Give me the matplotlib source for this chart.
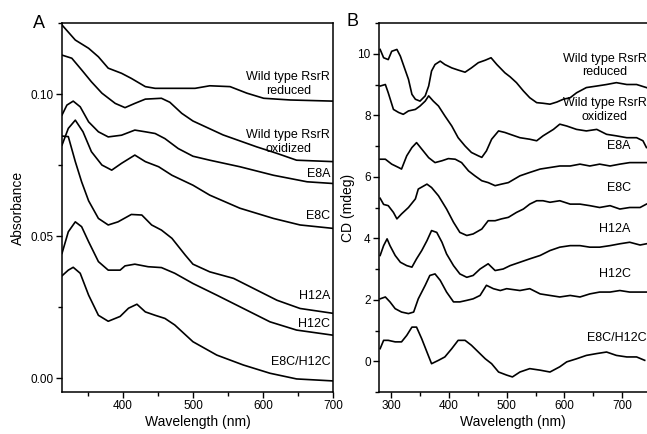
import matplotlib
matplotlib.use("Agg")
import matplotlib.pyplot as plt
import numpy as np
from matplotlib.ticker import MultipleLocator

plt.rcParams['font.family'] = ['Liberation Sans', 'DejaVu Sans']

# ---------------- panel A : absorbance ----------------
wt_red_x = [313, 332, 351, 365, 379, 398, 412, 432, 446, 503, 524, 553, 577, 601, 639, 700]
wt_red_y = [0.1244, 0.1191, 0.1162, 0.1132, 0.1092, 0.1074, 0.1056, 0.1027, 0.1021, 0.1021,
            0.1030, 0.1027, 0.1004, 0.0986, 0.0980, 0.0976]

wt_ox_x = [313, 327, 341, 355, 370, 389, 403, 417, 432, 455, 467, 484, 500, 543, 591, 620, 648, 700]
wt_ox_y = [0.1138, 0.1127, 0.1086, 0.1044, 0.1004, 0.0968, 0.0953, 0.0968, 0.0983, 0.0986,
           0.0972, 0.0933, 0.0906, 0.0857, 0.0815, 0.0792, 0.0768, 0.0763]

e8a_x = [313, 320, 329, 339, 351, 365, 379, 398, 417, 432, 446, 460, 479, 500, 524, 567, 615, 663, 700]
e8a_y = [0.0927, 0.0962, 0.0976, 0.0956, 0.0903, 0.0868, 0.0850, 0.0856, 0.0874, 0.0868,
         0.0862, 0.0844, 0.0809, 0.0782, 0.0768, 0.0745, 0.0715, 0.0692, 0.0686]

e8c_x = [313, 322, 332, 343, 355, 370, 384, 398, 417, 432, 451, 470, 500, 524, 567, 615, 653, 700]
e8c_y = [0.0821, 0.0880, 0.0909, 0.0868, 0.0798, 0.0751, 0.0733, 0.0757, 0.0786, 0.0763,
         0.0745, 0.0715, 0.0680, 0.0645, 0.0599, 0.0563, 0.0540, 0.0528]

h12a_x = [313, 322, 332, 341, 351, 365, 379, 393, 412, 427, 441, 455, 470, 489, 500, 524, 558, 591,
          620, 653, 700]
h12a_y = [0.0853, 0.0851, 0.0763, 0.0692, 0.0625, 0.0563, 0.0540, 0.0551, 0.0577, 0.0575,
          0.0540, 0.0522, 0.0493, 0.0434, 0.0402, 0.0375, 0.0352, 0.0311, 0.0275, 0.0246, 0.0229]

h12c_x = [313, 322, 332, 341, 351, 365, 379, 396, 403, 417, 436, 455, 474, 500, 534, 572, 610, 648, 700]
h12c_y = [0.0440, 0.0516, 0.0551, 0.0534, 0.0481, 0.0411, 0.0381, 0.0381, 0.0396, 0.0402,
          0.0393, 0.0390, 0.0370, 0.0334, 0.0293, 0.0246, 0.0199, 0.0170, 0.0152]

dbl_x = [313, 322, 329, 339, 351, 365, 379, 396, 408, 420, 432, 446, 460, 474, 500, 534, 572, 610, 648, 700]
dbl_y = [0.0361, 0.0381, 0.0391, 0.0370, 0.0293, 0.0222, 0.0201, 0.0218, 0.0247, 0.0261,
         0.0234, 0.0222, 0.0211, 0.0188, 0.0129, 0.0082, 0.0047, 0.0018, -0.0002, -0.0009]

abs_series = [(wt_red_x, wt_red_y), (wt_ox_x, wt_ox_y), (e8a_x, e8a_y), (e8c_x, e8c_y),
              (h12a_x, h12a_y), (h12c_x, h12c_y), (dbl_x, dbl_y)]
abs_labels = ['Wild type RsrR\nreduced', 'Wild type RsrR\noxidized', 'E8A', 'E8C',
              'H12A', 'H12C', 'E8C/H12C']
abs_lab_y = [0.0992, 0.0786, 0.0697, 0.0551, 0.0270, 0.0170, 0.0035]

# ---------------- panel B : CD ----------------
cd_red_x = [281, 287, 295, 301, 310, 316, 324, 330, 336, 342, 350, 359, 365, 370, 376, 385, 393, 405,
            416, 428, 439, 451, 463, 473, 483, 497, 506, 517, 529, 540, 552, 563, 575, 587, 598, 610,
            621, 638, 656, 673, 690, 708, 725, 742]
cd_red_y = [10.14, 9.87, 9.81, 10.08, 10.14, 9.92, 9.49, 9.17, 8.68, 8.52, 8.46, 8.63, 8.95, 9.44,
            9.65, 9.76, 9.65, 9.54, 9.47, 9.40, 9.54, 9.71, 9.79, 9.87, 9.65, 9.38, 9.25, 9.06, 8.79,
            8.57, 8.41, 8.39, 8.36, 8.43, 8.52, 8.57, 8.73, 8.90, 8.95, 9.00, 9.06, 9.00, 9.00, 8.90]

cd_ox_x = [281, 290, 295, 304, 313, 321, 330, 342, 350, 359, 365, 373, 382, 393, 405, 416, 428, 439,
           451, 457, 465, 474, 486, 497, 506, 523, 540, 552, 563, 581, 592, 604, 621, 638, 656, 673,
           690, 708, 725, 736, 742]
cd_ox_y = [8.95, 9.00, 8.73, 8.19, 8.09, 8.03, 8.14, 8.19, 8.30, 8.46, 8.63, 8.46, 8.30, 7.98, 7.65,
           7.27, 7.00, 6.79, 6.68, 6.63, 6.84, 7.22, 7.49, 7.44, 7.38, 7.27, 7.22, 7.17, 7.33, 7.54,
           7.71, 7.65, 7.54, 7.49, 7.54, 7.38, 7.33, 7.27, 7.27, 7.17, 6.95]

cd_e8a_x = [281, 290, 301, 313, 318, 327, 336, 344, 353, 365, 376, 388, 399, 411, 422, 434, 445, 457,
            468, 480, 491, 503, 523, 540, 558, 575, 592, 610, 627, 644, 661, 679, 696, 713, 731, 742]
cd_e8a_y = [6.57, 6.57, 6.41, 6.30, 6.25, 6.68, 6.95, 7.11, 6.90, 6.62, 6.46, 6.52, 6.59, 6.57, 6.46,
            6.19, 6.03, 5.87, 5.81, 5.71, 5.76, 5.81, 6.03, 6.14, 6.25, 6.30, 6.35, 6.35, 6.41, 6.35,
            6.41, 6.35, 6.41, 6.46, 6.46, 6.46]

cd_e8c_x = [281, 287, 295, 304, 310, 318, 330, 342, 347, 362, 370, 382, 396, 408, 419, 431, 442, 457,
            468, 480, 491, 503, 517, 529, 540, 552, 563, 575, 592, 610, 627, 644, 661, 679, 696, 713,
            731, 742]
cd_e8c_y = [5.30, 5.10, 5.06, 4.84, 4.63, 4.79, 5.00, 5.28, 5.60, 5.76, 5.65, 5.38, 4.95, 4.52, 4.19,
            4.09, 4.14, 4.30, 4.57, 4.57, 4.63, 4.68, 4.84, 4.95, 5.11, 5.22, 5.22, 5.17, 5.22, 5.11,
            5.11, 5.06, 5.00, 5.06, 4.95, 5.00, 5.00, 5.11]

cd_h12a_x = [281, 287, 293, 298, 307, 316, 327, 336, 344, 353, 362, 370, 379, 388, 396, 408, 419, 431,
             442, 454, 468, 480, 494, 506, 523, 540, 558, 575, 592, 610, 627, 644, 661, 679, 696, 713,
             731, 742]
cd_h12a_y = [3.44, 3.76, 3.98, 3.76, 3.44, 3.22, 3.11, 3.06, 3.33, 3.60, 3.92, 4.25, 4.19, 3.87, 3.49,
             3.11, 2.84, 2.73, 2.79, 3.00, 3.17, 2.95, 3.00, 3.11, 3.22, 3.33, 3.44, 3.60, 3.71, 3.76,
             3.76, 3.71, 3.71, 3.76, 3.82, 3.87, 3.78, 3.82]

cd_h12c_x = [281, 290, 298, 307, 318, 330, 339, 347, 359, 367, 376, 385, 396, 408, 419, 431, 442, 454,
             465, 477, 489, 500, 523, 540, 558, 575, 592, 610, 627, 644, 661, 679, 696, 713, 731, 742]
cd_h12c_y = [2.03, 2.09, 1.93, 1.71, 1.60, 1.55, 1.60, 2.03, 2.47, 2.79, 2.84, 2.63, 2.25, 1.93, 1.93,
             1.98, 2.03, 2.14, 2.47, 2.36, 2.30, 2.36, 2.30, 2.36, 2.19, 2.14, 2.09, 2.14, 2.09, 2.19,
             2.25, 2.25, 2.30, 2.25, 2.25, 2.25]

cd_dbl_x = [281, 287, 295, 307, 318, 327, 336, 344, 353, 362, 370, 382, 393, 405, 416, 428, 439, 451,
            463, 474, 486, 500, 510, 523, 540, 558, 575, 592, 604, 621, 638, 656, 673, 690, 708, 725, 739]
cd_dbl_y = [0.41, 0.68, 0.68, 0.63, 0.63, 0.84, 1.11, 1.11, 0.73, 0.30, -0.08, 0.03, 0.14, 0.41, 0.68,
            0.68, 0.52, 0.30, 0.08, -0.08, -0.35, -0.45, -0.51, -0.35, -0.24, -0.29, -0.35, -0.18,
            -0.02, 0.08, 0.19, 0.25, 0.30, 0.19, 0.14, 0.14, 0.03]

cd_series = [(cd_red_x, cd_red_y), (cd_ox_x, cd_ox_y), (cd_e8a_x, cd_e8a_y), (cd_e8c_x, cd_e8c_y),
             (cd_h12a_x, cd_h12a_y), (cd_h12c_x, cd_h12c_y), (cd_dbl_x, cd_dbl_y)]
cd_labels = ['Wild type RsrR\nreduced', 'Wild type RsrR\noxidized', 'E8A', 'E8C',
             'H12A', 'H12C', 'E8C/H12C']
cd_lab_x = [742, 742, 715, 715, 715, 715, 742]
cd_lab_y = [9.2, 7.75, 6.8, 5.45, 4.1, 2.65, 0.55]

fig = plt.figure(figsize=(6.47, 4.34), dpi=100)
axA = fig.add_axes([62/647, 1-392/434, (333-62)/647, (392-23)/434])
axB = fig.add_axes([379/647, 1-392/434, (647-379)/647, (392-23)/434])

for x, y in abs_series:
    axA.plot(x, y, color='black', lw=1.2)
for lab, yy in zip(abs_labels, abs_lab_y):
    axA.text(696, yy, lab, ha='right', va='bottom', multialignment='center', fontsize=9)

axA.set_xlim(313, 700)
axA.set_ylim(-0.0048, 0.1251)
axA.xaxis.set_major_locator(MultipleLocator(100))
axA.xaxis.set_minor_locator(MultipleLocator(50))
axA.yaxis.set_major_locator(MultipleLocator(0.05))
axA.yaxis.set_minor_locator(MultipleLocator(0.025))
axA.yaxis.set_major_formatter(matplotlib.ticker.FormatStrFormatter('%.2f'))
axA.set_xlabel('Wavelength (nm)', fontsize=10, labelpad=2)
axA.set_ylabel('Absorbance', fontsize=10, labelpad=4)

for x, y in cd_series:
    axB.plot(x, y, color='black', lw=1.2)
for lab, xx, yy in zip(cd_labels, cd_lab_x, cd_lab_y):
    axB.text(xx, yy, lab, ha='right', va='bottom', multialignment='center', fontsize=9)

axB.set_xlim(279, 743)
axB.set_ylim(-1, 11)
axB.xaxis.set_major_locator(MultipleLocator(100))
axB.xaxis.set_minor_locator(MultipleLocator(50))
axB.yaxis.set_major_locator(MultipleLocator(2))
axB.yaxis.set_minor_locator(MultipleLocator(1))
axB.set_xlabel('Wavelength (nm)', fontsize=10, labelpad=2)
axB.set_ylabel('CD (mdeg)', fontsize=10, labelpad=2)
axB.spines['right'].set_visible(False)

for ax in (axA, axB):
    for s in ax.spines.values():
        s.set_linewidth(1.1)
    ax.tick_params(which='major', direction='out', length=4, width=1, labelsize=8.5, pad=2)
    ax.tick_params(which='minor', direction='out', length=3, width=1)

fig.text(33/647, 1-28/434, 'A', fontsize=13)
fig.text(347/647, 1-26/434, 'B', fontsize=13)

fig.savefig('out.png', dpi=100)
